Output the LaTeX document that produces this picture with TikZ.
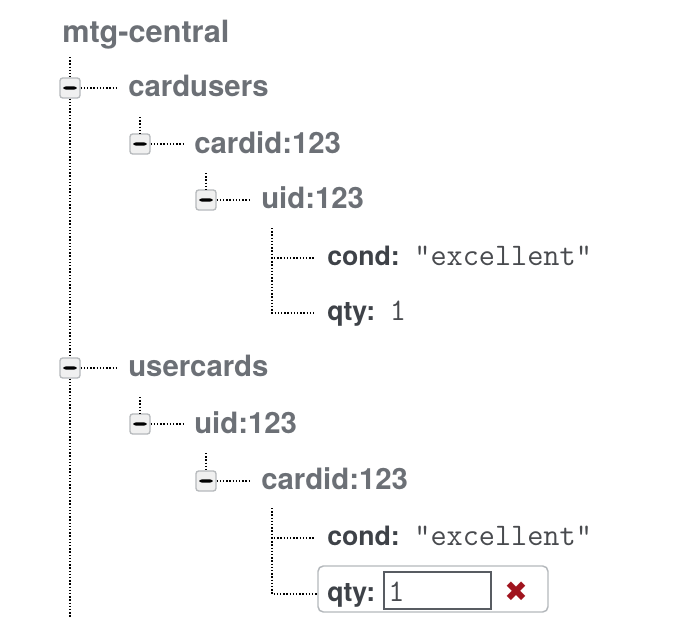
\documentclass[tikz,border=0pt]{standalone}
\usepackage{fontspec}
\setmainfont{TeX Gyre Heros}
\newfontfamily\symfont{DejaVu Sans}
\definecolor{branchgray}{RGB}{108,112,118}
\definecolor{keygray}{RGB}{62,66,72}
\definecolor{valgray}{RGB}{72,74,78}
\definecolor{boxgray}{RGB}{182,185,188}
\definecolor{boxfill}{RGB}{240,240,240}
\definecolor{framegray}{RGB}{180,184,188}
\definecolor{inputgray}{RGB}{88,92,98}
\definecolor{delred}{RGB}{160,20,30}
\begin{document}
\begin{tikzpicture}[x=0.75pt,y=-0.75pt,
    rootname/.style={anchor=base west,inner sep=0pt,text=branchgray,font=\fontsize{23}{27}\selectfont\bfseries},
    branch/.style={anchor=base west,inner xsep=7.5pt,inner ysep=0pt,text=branchgray,font=\fontsize{22}{26}\selectfont\bfseries},
    leafkey/.style={anchor=base west,inner xsep=9pt,inner ysep=0pt,text=keygray,font=\fontsize{20}{24}\selectfont\bfseries},
    leafval/.style={anchor=base west,inner sep=0pt,text=valgray,font=\fontsize{23.5}{26}\selectfont\ttfamily},
    minus/.style={draw=boxgray,fill=boxfill,line width=1pt,rounded corners=2pt,minimum size=15pt,inner sep=0pt,
        path picture={\fill[black] ([xshift=-4.9pt,yshift=-1.3pt]path picture bounding box.center) rectangle ++(9.8pt,2.6pt);}},
    dotline/.style={line width=1.3pt,dash pattern=on 1pt off 1.4pt},
    editframe/.style={draw=framegray,line width=1.1pt,rounded corners=4pt,minimum width=172.5pt,minimum height=34.5pt,inner sep=0pt},
    inputframe/.style={draw=inputgray,line width=1.1pt,minimum width=80.25pt,minimum height=27.75pt,inner sep=0pt}]
    \useasboundingbox (0,0) rectangle (700,618);

    % root
    \node[rootname] (root) at (62,42) {mtg-central};
    \coordinate (trunktop) at (70,57);
    \coordinate (trunkend) at (70,618);

    % cardusers
    \node[minus] (bxcardusers) at (70,88) {};
    \node[branch] (cardusers) at (118,96.5) {cardusers};
    \coordinate (cutop) at (140,117);
    \node[minus] (bxcucard) at (140,144) {};
    \node[branch] (cucard) at (184,153) {cardid:123};
    \coordinate (cucardtop) at (206,173);
    \node[minus] (bxcuuid) at (206,200) {};
    \node[branch] (cuuid) at (251,208.5) {uid:123};
    \coordinate (culeaftop) at (272,228);
    \node[leafkey] (cucond) at (315,265) {cond:};
    \node[leafval] (cucondval) at ([xshift=1.5pt]cucond.base east) {"excellent"};
    \node[leafkey] (cuqty) at (315,320) {qty:};
    \node[leafval] (cuqtyval) at ([xshift=1.5pt]cuqty.base east) {1};

    % usercards
    \node[minus] (bxusercards) at (70,368) {};
    \node[branch] (usercards) at (118,376.5) {usercards};
    \coordinate (uctop) at (140,397);
    \node[minus] (bxucuid) at (140,424) {};
    \node[branch] (ucuid) at (184,433) {uid:123};
    \coordinate (ucuidtop) at (206,453);
    \node[minus] (bxuccard) at (206,481) {};
    \node[branch] (uccard) at (251,489.5) {cardid:123};
    \coordinate (ucleaftop) at (272,508);
    \node[leafkey] (uccond) at (315,545) {cond:};
    \node[leafval] (uccondval) at ([xshift=1.5pt]uccond.base east) {"excellent"};
    \node[editframe] (qtyedit) at (433,589) {};
    \node[leafkey] (ucqty) at (315,601) {qty:};
    \node[inputframe] (qtyinput) at (437.5,590.5) {};
    \node[leafval] (ucqtyval) at (388,601) {1};
    \node[text=delred,font=\symfont\fontsize{21}{21}\selectfont] (qtydel) at (516,592) {✖};

    % trunk
    \draw[dotline] (trunktop) -- (bxcardusers.north);
    \draw[dotline] (bxcardusers.south) -- (bxusercards.north);
    \draw[dotline] (bxusercards.south) -- (trunkend);

    \draw[dotline] (bxcardusers.east) -- (bxcardusers.east -| cardusers.west);
    \draw[dotline] (cutop) -- (bxcucard.north);
    \draw[dotline] (bxcucard.east) -- (bxcucard.east -| cucard.west);
    \draw[dotline] (cucardtop) -- (bxcuuid.north);
    \draw[dotline] (bxcuuid.east) -- (bxcuuid.east -| cuuid.west);
    \draw[dotline] (culeaftop) -- (272,258) -- (cucond.west |- 272,258);
    \draw[dotline] (272,258) -- (272,313) -- (cuqty.west |- 272,313);

    \draw[dotline] (bxusercards.east) -- (bxusercards.east -| usercards.west);
    \draw[dotline] (uctop) -- (bxucuid.north);
    \draw[dotline] (bxucuid.east) -- (bxucuid.east -| ucuid.west);
    \draw[dotline] (ucuidtop) -- (bxuccard.north);
    \draw[dotline] (bxuccard.east) -- (bxuccard.east -| uccard.west);
    \draw[dotline] (ucleaftop) -- (272,538) -- (uccond.west |- 272,538);
    \draw[dotline] (272,538) -- (272,594) -- (qtyedit.west |- 272,594);
\end{tikzpicture}
\end{document}
